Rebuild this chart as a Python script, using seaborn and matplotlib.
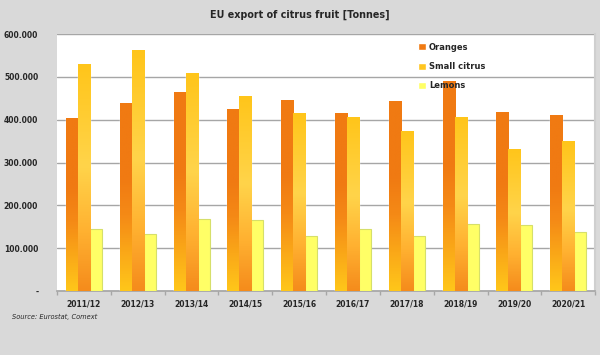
import matplotlib
matplotlib.use("Agg")
import matplotlib.pyplot as plt
import numpy as np
import pandas as pd
import seaborn as sns
from matplotlib.colors import LinearSegmentedColormap
from matplotlib.ticker import FixedLocator

# values (tonnes)
seasons = ['2011/12', '2012/13', '2013/14', '2014/15', '2015/16',
           '2016/17', '2017/18', '2018/19', '2019/20', '2020/21']
oranges = [403000, 440000, 465000, 425000, 446000, 416000, 443000, 490000, 418000, 411000]
small_citrus = [530000, 563000, 509000, 456000, 416000, 406000, 374000, 406000, 332000, 350000]
lemons = [145000, 133000, 168000, 166000, 129000, 146000, 129000, 157000, 154000, 138000]
series = ['Oranges', 'Small citrus', 'Lemons']

df = pd.DataFrame({'Season': seasons, 'Oranges': oranges,
                   'Small citrus': small_citrus, 'Lemons': lemons})
df = df.melt(id_vars='Season', var_name='Product', value_name='Tonnes')

sns.set_theme(style="white")
plt.rcParams['font.family'] = ['DejaVu Sans']

fig = plt.figure(figsize=(6, 3.55), dpi=100, facecolor='#d9d9d9')
ax = fig.add_axes([0.095, 0.180, 0.897, 0.724])
ax.set_facecolor('white')

palette = {'Oranges': '#f07a12', 'Small citrus': '#ffc520', 'Lemons': '#ffff66'}
sns.barplot(data=df, x='Season', y='Tonnes', hue='Product', hue_order=series,
            palette=palette, width=0.67, gap=0, saturation=1, ax=ax, zorder=3)

# gradient fills like the spreadsheet original
grads = {
    'Oranges': LinearSegmentedColormap.from_list(
        'o', [(0, '#ffc61a'), (0.4, '#f58a16'), (0.6, '#f07a12'), (1, '#f07a12')]),
    'Small citrus': LinearSegmentedColormap.from_list(
        's', [(0, '#f58c1c'), (0.25, '#ffb030'), (0.55, '#ffd44a'), (1, '#ffc51a')]),
}
grad = np.linspace(0, 1, 100).reshape(-1, 1)
for cont, name in zip(ax.containers, series):
    for p in cont.patches:
        if name == 'Lemons':
            p.set_edgecolor('#d6df6a')
            p.set_linewidth(0.8)
            continue
        x, w, h = p.get_x(), p.get_width(), p.get_height()
        im = ax.imshow(grad, cmap=grads[name], origin='lower', aspect='auto',
                       extent=[x, x + w, 0, h], zorder=3.5)
        im.set_clip_path(p)
ax.set_ylim(0, 600000)
ax.set_xlim(-0.5, len(seasons) - 0.5)

# grid and axes
yt = [0, 100000, 200000, 300000, 400000, 500000, 600000]
ylab = ['-', '100.000', '200.000', '300.000', '400.000', '500.000', '600.000']
ax.set_yticks(yt)
ax.set_yticklabels(ylab, fontsize=5.5, fontweight='bold')
ax.yaxis.grid(True, color='#a6a6a6', linewidth=1, zorder=0)
ax.set_axisbelow(True)
ax.tick_params(axis='y', length=0, pad=13.5)

ax.set_xticks(range(len(seasons)))
ax.set_xticklabels(seasons, fontsize=5.5, fontweight='bold')
ax.xaxis.set_minor_locator(FixedLocator(np.arange(-0.5, len(seasons), 1)))
ax.tick_params(axis='x', which='major', length=0, pad=6)
ax.tick_params(axis='x', which='minor', bottom=True, length=3, color='#a6a6a6', width=1)
ax.set_xlabel('')
ax.set_ylabel('')

for s in ['top', 'left']:
    ax.spines[s].set_visible(False)
ax.spines['bottom'].set_color('#a6a6a6')
ax.spines['right'].set_color('#cfcfcf')
ax.spines['right'].set_linewidth(1.5)

leg = ax.legend(loc='upper left', bbox_to_anchor=(0.665, 0.98), frameon=False,
                fontsize=6, handlelength=0.9, handleheight=0.9, handletextpad=0.4,
                labelspacing=1.25, borderaxespad=0)
for t in leg.get_texts():
    t.set_fontweight('bold')
leg.set_zorder(5)

fig.text(0.5, 0.958, 'EU export of citrus fruit [Tonnes]', ha='center', va='center',
         fontsize=6.9, fontweight='bold')
fig.text(0.02, 0.107, 'Source: Eurostat, Comext', ha='left', va='center',
         fontsize=4.8, style='italic')

fig.savefig('out.png', dpi=100, facecolor=fig.get_facecolor())
